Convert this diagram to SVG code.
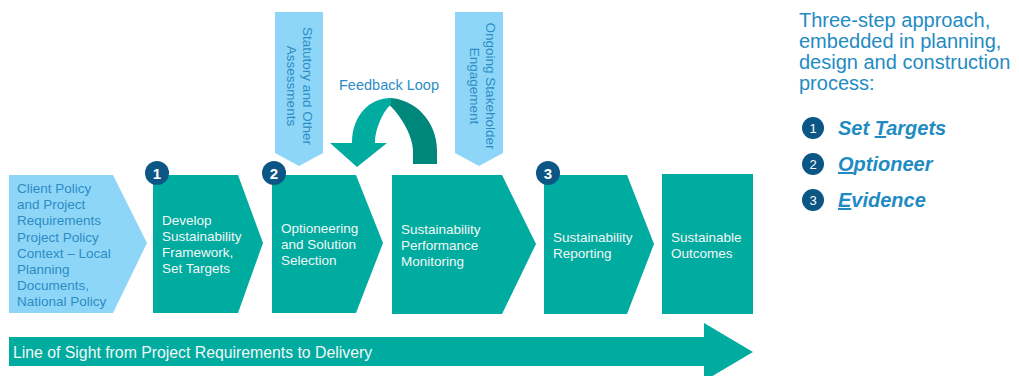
<svg xmlns="http://www.w3.org/2000/svg" width="1019" height="376" viewBox="0 0 1019 376">
  <defs>
    <style>
      .teal { fill: #00AB9F; }
      .teal-dark { fill: #00877C; }
      .sky { fill: #8ED6F8; }
      .badge { fill: #0C5685; }
      text { font-family: "Liberation Sans", Arial, sans-serif; }
      .lbl { font-size: 13.5px; fill: #F2F7F7; }
      .lbl-blue { font-size: 13.5px; fill: #2C8CC4; }
      .num { font-size: 15px; font-weight: bold; fill: #FFFFFF; text-anchor: middle; }
      .num-s { font-size: 13px; fill: #FFFFFF; text-anchor: middle; }
      .side { font-size: 20px; fill: #1F8BC3; }
      .step { font-size: 20px; font-weight: bold; font-style: italic; fill: #1F8BC3; }
    </style>
  </defs>

  <rect width="1019" height="376" fill="#FFFFFF"/>

  <!-- connectors: line-of-sight arrow and feedback loop -->
  <g id="connectors">
    <g id="line-of-sight">
      <path class="teal" d="M9,337 L704,337 L704,323 L753,352 L704,381 L704,366 L9,366 Z"/>
      <text x="13" y="357.5" font-size="15.8" fill="#F2F7F7">Line of Sight from Project Requirements to Delivery</text>
    </g>
    <g id="feedback-loop">
      <!-- far (shaded) half of the loop -->
      <path class="teal-dark" d="M388,98 C415,98 437,122 437,150 L437,164 L413,164 L413,150 C412,130 394,108 388,104 Z"/>
      <!-- near half running into the arrowhead -->
      <path class="teal" d="M352,143 C352,115 370,98 391,98 L391,104.5 C384,110 375,128 375,143 L387,143 L357,167 L330,143 Z"/>
      <text x="389" y="90" font-size="14.5" fill="#2C8CC4" text-anchor="middle">Feedback Loop</text>
    </g>
  </g>

  <!-- input arrows from above -->
  <g id="statutory">
    <path class="sky" d="M275,12 L323,12 L323,153 L299,166 L275,153 Z"/>
    <g transform="translate(303,86) rotate(90)">
      <text class="lbl-blue" text-anchor="middle" x="0" y="0">Statutory and Other</text>
      <text class="lbl-blue" text-anchor="middle" x="0" y="16">Assessments</text>
    </g>
  </g>
  <g id="stakeholder">
    <path class="sky" d="M455,12 L503,12 L503,153 L479,166 L455,153 Z"/>
    <g transform="translate(486,86) rotate(90)">
      <text class="lbl-blue" text-anchor="middle" x="0" y="0">Ongoing Stakeholder</text>
      <text class="lbl-blue" text-anchor="middle" x="0" y="16">Engagement</text>
    </g>
  </g>

  <!-- process chain -->
  <g id="client-policy">
    <path class="sky" d="M9,175 L113,175 L147,243 L113,313 L9,313 Z"/>
    <text class="lbl-blue">
      <tspan x="17" y="193">Client Policy</tspan>
      <tspan x="17" y="209.2">and Project</tspan>
      <tspan x="17" y="225.4">Requirements</tspan>
      <tspan x="17" y="241.6">Project Policy</tspan>
      <tspan x="17" y="257.8">Context – Local</tspan>
      <tspan x="17" y="274">Planning</tspan>
      <tspan x="17" y="290.2">Documents,</tspan>
      <tspan x="17" y="306.4">National Policy</tspan>
    </text>
  </g>

  <g id="framework">
    <path class="teal" d="M153,175 L238,175 L263,243 L238,313 L153,313 Z"/>
    <text class="lbl">
      <tspan x="162" y="224.5">Develop</tspan>
      <tspan x="162" y="240.5">Sustainability</tspan>
      <tspan x="162" y="256.5">Framework,</tspan>
      <tspan x="162" y="272.5">Set Targets</tspan>
    </text>
    <circle class="badge" cx="157" cy="173" r="12"/>
    <text class="num" x="157" y="178.5">1</text>
  </g>

  <g id="optioneering">
    <path class="teal" d="M272,175 L356,175 L383,243 L356,313 L272,313 Z"/>
    <text class="lbl">
      <tspan x="281" y="232.5">Optioneering</tspan>
      <tspan x="281" y="248.5">and Solution</tspan>
      <tspan x="281" y="264.5">Selection</tspan>
    </text>
    <circle class="badge" cx="274" cy="173" r="12"/>
    <text class="num" x="274" y="178.5">2</text>
  </g>

  <g id="monitoring">
    <path class="teal" d="M392,175 L502,175 L536,244 L502,314 L392,314 Z"/>
    <text class="lbl">
      <tspan x="401" y="233.5">Sustainability</tspan>
      <tspan x="401" y="249.5">Performance</tspan>
      <tspan x="401" y="265.5">Monitoring</tspan>
    </text>
  </g>

  <g id="reporting">
    <path class="teal" d="M544,175 L627,175 L654,244 L627,314 L544,314 Z"/>
    <text class="lbl">
      <tspan x="553" y="241.5">Sustainability</tspan>
      <tspan x="553" y="257.5">Reporting</tspan>
    </text>
    <circle class="badge" cx="548" cy="173" r="12"/>
    <text class="num" x="548" y="178.5">3</text>
  </g>

  <g id="outcomes">
    <rect class="teal" x="662" y="174" width="91" height="140"/>
    <text class="lbl">
      <tspan x="671" y="241.5">Sustainable</tspan>
      <tspan x="671" y="257.5">Outcomes</tspan>
    </text>
  </g>

  <!-- summary panel -->
  <g id="summary">
    <text class="side">
      <tspan x="799" y="27">Three-step approach,</tspan>
      <tspan x="799" y="48">embedded in planning,</tspan>
      <tspan x="799" y="69">design and construction</tspan>
      <tspan x="799" y="90">process:</tspan>
    </text>
    <circle class="badge" cx="813" cy="128" r="11"/>
    <text class="num-s" x="813" y="132.5">1</text>
    <text class="step" x="838" y="135"><tspan>Set </tspan><tspan text-decoration="underline">T</tspan><tspan>argets</tspan></text>
    <circle class="badge" cx="813" cy="164" r="11"/>
    <text class="num-s" x="813" y="168.5">2</text>
    <text class="step" x="838" y="171"><tspan text-decoration="underline">O</tspan><tspan>ptioneer</tspan></text>
    <circle class="badge" cx="813" cy="200" r="11"/>
    <text class="num-s" x="813" y="204.5">3</text>
    <text class="step" x="838" y="207"><tspan text-decoration="underline">E</tspan><tspan>vidence</tspan></text>
  </g>
</svg>
